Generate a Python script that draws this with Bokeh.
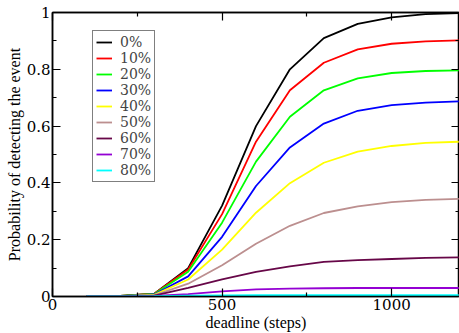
from bokeh.plotting import figure
from bokeh.models import (LinearAxis, FixedTicker, CustomJSTickFormatter, Legend, LegendItem, Range1d)
from bokeh.embed import file_html
from bokeh.resources import INLINE

deadline = [100, 200, 300, 400, 500, 600, 700, 800, 900, 1000, 1100, 1200]
p0 = [0, 0.002, 0.01, 0.100, 0.320, 0.600, 0.800, 0.910, 0.960, 0.983, 0.994, 0.998]
p10 = [0, 0.002, 0.01, 0.095, 0.290, 0.545, 0.726, 0.823, 0.870, 0.890, 0.898, 0.902]
p20 = [0, 0.002, 0.009, 0.087, 0.260, 0.475, 0.633, 0.726, 0.768, 0.787, 0.794, 0.796]
p30 = [0, 0.001, 0.007, 0.071, 0.210, 0.389, 0.525, 0.609, 0.654, 0.674, 0.683, 0.687]
p40 = [0, 0.001, 0.006, 0.060, 0.165, 0.295, 0.399, 0.471, 0.510, 0.530, 0.541, 0.545]
p50 = [0, 0.001, 0.004, 0.045, 0.110, 0.186, 0.249, 0.294, 0.317, 0.332, 0.340, 0.344]
p60 = [0, 0.001, 0.003, 0.030, 0.060, 0.087, 0.106, 0.122, 0.128, 0.132, 0.136, 0.138]
p70 = [0, 0, 0.002, 0.008, 0.018, 0.025, 0.028, 0.029, 0.030, 0.030, 0.030, 0.030]
p80 = [0, 0, 0.001, 0.003, 0.004, 0.005, 0.005, 0.005, 0.005, 0.005, 0.005, 0.005]

series = [p0, p10, p20, p30, p40, p50, p60, p70, p80]
labels = ["0%", "10%", "20%", "30%", "40%", "50%", "60%", "70%", "80%"]
colors = ["#000000", "#ff0000", "#00ff00", "#0000ff", "#ffff00", "#bc8f8f", "#670748", "#9400d3", "#00ffff"]

x_major = [0, 500, 1000]
x_minor = [250, 750]
y_major = [0, 0.2, 0.4, 0.6, 0.8, 1.0]
y_minor = [0.1, 0.3, 0.5, 0.7, 0.9]

LABEL_FONT = "Liberation Serif"
TICK_FONT = "DejaVu Serif"

p = figure(width=459, height=333, output_backend="svg", toolbar_location=None,
           x_range=Range1d(0, 1200), y_range=Range1d(0, 1),
           x_axis_label="deadline (steps)", y_axis_label="Probability of detecting the event",
           min_border_left=52, min_border_right=0, min_border_top=12, min_border_bottom=36)
p.grid.visible = False
p.outline_line_color = "black"
p.outline_line_width = 1.5
p.background_fill_color = "white"
p.border_fill_color = "white"

fmt = CustomJSTickFormatter(code="return (Math.round(tick*10)/10).toString();")
blank = CustomJSTickFormatter(code="return '';")

def style_axis(ax, major, minor, labels_on):
    ax.ticker = FixedTicker(ticks=major, minor_ticks=minor)
    ax.major_tick_in = 8
    ax.major_tick_out = 0
    ax.minor_tick_in = 4
    ax.minor_tick_out = 0
    ax.axis_line_color = "black"
    ax.axis_line_width = 1.5
    ax.major_tick_line_color = "black"
    ax.major_tick_line_width = 1.2
    ax.minor_tick_line_color = "black"
    ax.minor_tick_line_width = 1.2
    if labels_on:
        ax.major_label_text_font = TICK_FONT
        ax.major_label_text_font_size = "15px"
        ax.major_label_text_font_style = "normal"
        ax.major_label_text_color = "black"
        ax.axis_label_text_font = LABEL_FONT
        ax.axis_label_text_font_size = "16px"
        ax.axis_label_text_font_style = "normal"
        ax.axis_label_text_color = "black"
        ax.major_label_standoff = 2
        ax.axis_label_standoff = 1
    else:
        ax.formatter = blank
        ax.major_label_text_font_size = "1px"
        ax.major_label_standoff = 0
        ax.axis_label = None

style_axis(p.xaxis[0], x_major, x_minor, True)
style_axis(p.yaxis[0], y_major, y_minor, True)
p.yaxis[0].formatter = fmt

top = LinearAxis()
style_axis(top, x_major, x_minor, False)
p.add_layout(top, "above")
right = LinearAxis()
style_axis(right, y_major, y_minor, False)
p.add_layout(right, "right")

items = []
for ys, lab, col in zip(series, labels, colors):
    r = p.line(deadline, ys, line_color=col, line_width=1.8)
    items.append(LegendItem(label=lab, renderers=[r]))

legend = Legend(items=items, location=(40, 114), label_text_font=TICK_FONT, label_text_font_size="14px",
                label_text_font_style="normal",
                glyph_width=16, glyph_height=14, label_height=14, spacing=0, padding=3, margin=0,
                label_standoff=8, border_line_color="black", border_line_width=1.5,
                background_fill_color="white", background_fill_alpha=1.0)
p.add_layout(legend, "center")

open("out.html", "w").write(file_html(p, INLINE))
